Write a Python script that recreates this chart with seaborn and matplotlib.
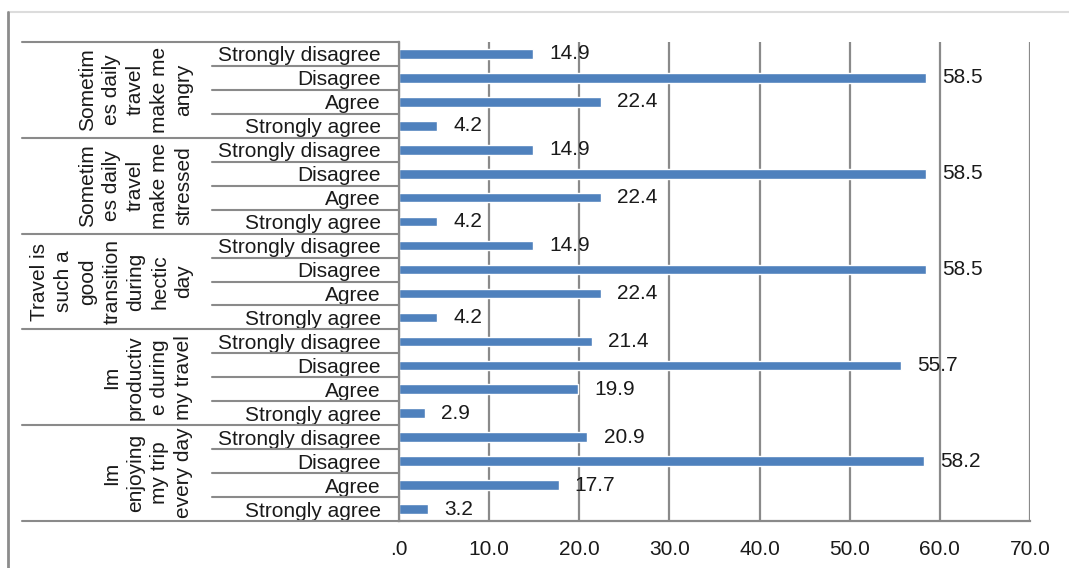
import pandas as pd
import matplotlib.pyplot as plt
import seaborn as sns
from matplotlib.lines import Line2D

# survey groups (top to bottom) and the answers inside each group
groups = ["Sometim\nes daily\ntravel\nmake me\nangry",
          "Sometim\nes daily\ntravel\nmake me\nstressed",
          "Travel is\nsuch a\ngood\ntransition\nduring\nhectic\nday",
          "Im\nproductiv\ne during\nmy travel",
          "Im\nenjoying\nmy trip\nevery day"]
answers = ["Strongly disagree", "Disagree", "Agree", "Strongly agree"]

angry = [14.9, 58.5, 22.4, 4.2]
stressed = [14.9, 58.5, 22.4, 4.2]
transition = [14.9, 58.5, 22.4, 4.2]
productive = [21.4, 55.7, 19.9, 2.9]
enjoying = [20.9, 58.2, 17.7, 3.2]

xticks = [0, 10, 20, 30, 40, 50, 60, 70]
xticklabels = [".0", "10.0", "20.0", "30.0", "40.0", "50.0", "60.0", "70.0"]

series = [angry, stressed, transition, productive, enjoying]
rows = []
for g, vals in enumerate(series):
    for a, v in zip(answers, vals):
        rows.append({"row": f"{g}_{a}", "answer": a, "value": v})
df = pd.DataFrame(rows)

sns.set_style("white")
plt.rcParams['font.family'] = ['Liberation Sans', 'DejaVu Sans']

fig = plt.figure(figsize=(10.69, 5.68), dpi=100)
ax = fig.add_axes([399 / 1069, 1 - 521 / 568, 631 / 1069, (521 - 42) / 568])

sns.barplot(data=df, x="value", y="row", orient="h", color="#4F81BD",
            width=0.4, saturation=1, ax=ax)

n = len(df)
gray = "#8a8a8a"
ax.set_xlim(0, 70)
ax.set_ylim(n - 0.5, -0.5)
ax.set_xticks(xticks)
ax.set_xticklabels(xticklabels, fontsize=15, color="#1a1a1a")
ax.grid(axis="x", color=gray, lw=1.6)
ax.set_axisbelow(True)
for s in ["top", "right"]:
    ax.spines[s].set_visible(False)
for s in ["left", "bottom"]:
    ax.spines[s].set_color(gray)
    ax.spines[s].set_linewidth(1.6)
ax.tick_params(axis="x", length=5, width=1.5, color=gray, direction="out", pad=9)
ax.set_yticks(range(n))
ax.set_yticklabels(df["answer"], fontsize=15, color="#1a1a1a")
ax.tick_params(axis="y", length=0, pad=13)
ax.set_xlabel("")
ax.set_ylabel("")

# value labels
for i, v in enumerate(df["value"]):
    ax.text(v + 1.8, i, f"{v:.1f}", va="center", ha="left", fontsize=15, color="#1a1a1a")

# category separators
tr = ax.get_yaxis_transform()
for k in range(n + 1):
    y = k - 0.5
    x0 = -0.5975 if k % 4 == 0 else -0.2964
    ax.plot([x0, 0], [y, y], transform=tr, color=gray, lw=1.5, clip_on=False)

# group labels
for g, name in enumerate(groups):
    ax.text(-0.3265, 4 * g + 1.5, name, transform=tr, rotation=90, ha="right",
            va="center", multialignment="center", fontsize=15, linespacing=1.33,
            color="#1a1a1a")

# outer chart frame
fig.add_artist(Line2D([8 / 1069, 1], [1 - 12 / 568, 1 - 12 / 568], color="#dcdcdc", lw=1.5))
fig.add_artist(Line2D([8 / 1069, 8 / 1069], [0, 1 - 12 / 568], color="#8c8c8c", lw=2))

fig.savefig("out.png", dpi=100)
